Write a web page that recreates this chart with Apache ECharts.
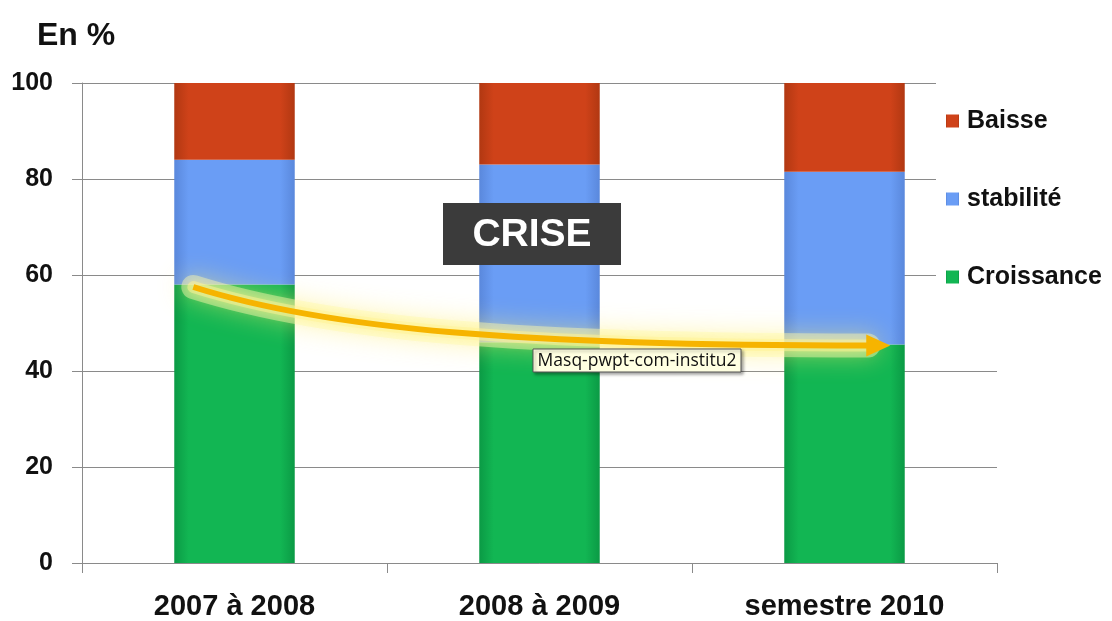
<!DOCTYPE html>
<html>
<head>
<meta charset="utf-8">
<script src="https://cdn.jsdelivr.net/npm/echarts@6/dist/echarts.min.js"></script>
<style>
    html, body { margin: 0; padding: 0; background: #fff; }
    #chart { width: 1112px; height: 621px; }
</style>
</head>
<body>
<div id="chart"></div>
<script>
// données
var categories = ['2007 à 2008', '2008 à 2009', 'semestre 2010'];
var croissance = [58, 46, 45.5];
var stabilite = [26, 37, 36];
var baisse = [16, 17, 18.5];
var yTicks = [0, 20, 40, 60, 80, 100];
// flèche de tendance : valeur de départ (1re barre) et d'arrivée (3e barre)
var trendValues = [57.5, 45.3];

var FONT = '"Liberation Sans", Arial, sans-serif';

// petit dégradé horizontal pour donner du relief aux barres
function barColor(edge, mid) {
    return new echarts.graphic.LinearGradient(0, 0, 1, 0, [
        { offset: 0, color: edge },
        { offset: 0.12, color: mid },
        { offset: 0.88, color: mid },
        { offset: 1, color: edge }
    ]);
}

var chart = echarts.init(document.getElementById('chart'));

var option = {
    animation: false,
    backgroundColor: '#ffffff',
    title: {
        text: 'En %',
        left: 32,
        top: 15,
        textStyle: { fontFamily: FONT, fontSize: 32, fontWeight: 'bold', color: '#111' }
    },
    grid: { left: 82, right: 115, top: 83, bottom: 57.5 },
    legend: {
        data: ['Baisse', 'stabilité', 'Croissance'],
        orient: 'vertical',
        left: 936,
        top: 80,
        padding: [28, 120, 12, 10],
        backgroundColor: '#ffffff',
        itemWidth: 13,
        itemHeight: 13,
        itemGap: 52,
        icon: 'rect',
        textStyle: { fontFamily: FONT, fontSize: 25, fontWeight: 'bold', color: '#111', lineHeight: 26, padding: [0, 0, 0, 3] }
    },
    xAxis: {
        type: 'category',
        data: categories,
        axisLine: { lineStyle: { color: '#8a8a8a', width: 1 } },
        axisTick: { show: true, length: 10, lineStyle: { color: '#8a8a8a' } },
        axisLabel: { fontFamily: FONT, fontSize: 29, fontWeight: 'bold', color: '#111', margin: 29 }
    },
    yAxis: {
        type: 'value',
        min: yTicks[0],
        max: yTicks[yTicks.length - 1],
        interval: 20,
        axisLine: { show: true, lineStyle: { color: '#8a8a8a', width: 1 } },
        axisTick: { show: true, length: 10, lineStyle: { color: '#8a8a8a' } },
        splitLine: { lineStyle: { color: '#8a8a8a', width: 1 } },
        axisLabel: { fontFamily: FONT, fontSize: 25, fontWeight: 'bold', color: '#111', margin: 29 }
    },
    series: [
        {
            name: 'Croissance', type: 'bar', stack: 'total', barWidth: '39.5%',
            data: croissance,
            itemStyle: { color: barColor('#0b9a45', '#12b653') }
        },
        {
            name: 'stabilité', type: 'bar', stack: 'total',
            data: stabilite,
            itemStyle: { color: barColor('#5a88dc', '#6a9df5') }
        },
        {
            name: 'Baisse', type: 'bar', stack: 'total',
            data: baisse,
            itemStyle: { color: barColor('#b13812', '#cf4219') }
        }
    ]
};

chart.setOption(option);

// flèche jaune + encadrés, placés à partir des valeurs via les axes
function drawAnnotations() {
    var p0 = chart.convertToPixel({ gridIndex: 0 }, [0, trendValues[0]]);
    var p1 = chart.convertToPixel({ gridIndex: 0 }, [1, trendValues[1]]);
    var p2 = chart.convertToPixel({ gridIndex: 0 }, [2, trendValues[1]]);
    var band = p1[0] - p0[0];
    var sx = p0[0] - 0.135 * band, sy = p0[1];
    var tipX = p2[0] + 0.15 * band, ey = p2[1];
    var ex = tipX - 22;
    var dx = ex - sx, dy = ey - sy;
    var curve = {
        x1: sx, y1: sy,
        cpx1: sx + 0.2 * dx, cpy1: sy + 0.73 * dy,
        cpx2: sx + 0.49 * dx, cpy2: ey,
        x2: ex, y2: ey
    };

    chart.setOption({
        graphic: [
            {
                type: 'bezierCurve', z: 50, silent: true,
                shape: curve,
                style: { stroke: 'rgba(255, 250, 175, 0.45)', lineWidth: 24, fill: null, lineCap: 'round',
                         shadowBlur: 24, shadowColor: 'rgba(255, 238, 110, 1)' }
            },
            {
                type: 'bezierCurve', z: 50, silent: true,
                shape: curve,
                style: { stroke: 'rgba(255, 244, 150, 0.5)', lineWidth: 12, fill: null, lineCap: 'round',
                         shadowBlur: 10, shadowColor: 'rgba(255, 240, 130, 0.9)' }
            },
            {
                type: 'bezierCurve', z: 51, silent: true,
                shape: curve,
                style: { stroke: '#f6b400', lineWidth: 6, fill: null }
            },
            {
                type: 'polygon', z: 51, silent: true,
                shape: { points: [[tipX, ey], [tipX - 24, ey - 11], [tipX - 24, ey + 11]] },
                style: { fill: '#f6b400' }
            },
            {
                type: 'rect', z: 60, silent: true,
                shape: { x: 443, y: 203, width: 178, height: 62 }, style: { fill: '#3b3b3b' }
            },
            {
                type: 'text', z: 61, silent: true, x: 532, y: 235,
                style: { text: 'CRISE', fill: '#ffffff', fontFamily: FONT,
                         fontSize: 39, fontWeight: 'bold', align: 'center', verticalAlign: 'middle' }
            },
            {
                type: 'rect', z: 60, silent: true,
                shape: { x: 533, y: 349, width: 208, height: 23 },
                style: { fill: '#ffffe1', stroke: '#555555', lineWidth: 1,
                         shadowBlur: 3, shadowOffsetX: 2, shadowOffsetY: 2, shadowColor: 'rgba(0,0,0,0.35)' }
            },
            {
                type: 'text', z: 61, silent: true, x: 637, y: 361,
                style: { text: 'Masq-pwpt-com-institu2', fill: '#111',
                         fontFamily: '"Open Sans", "DejaVu Sans", sans-serif', fontSize: 17.5,
                         align: 'center', verticalAlign: 'middle' }
            }
        ]
    });
}

drawAnnotations();
</script>
</body>
</html>
